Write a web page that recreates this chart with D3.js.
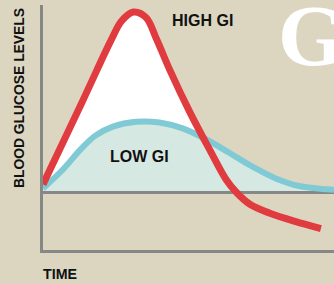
<!DOCTYPE html>
<html>
<head>
<meta charset="utf-8">
<script src="https://cdn.jsdelivr.net/npm/d3@7"></script>
<style>
  html, body { margin: 0; padding: 0; background: #dcd6c1; }
  svg { display: block; }
  text { font-family: "Liberation Sans", Arial, sans-serif; font-weight: bold; fill: #111; }
</style>
</head>
<body>
<svg id="svg1" width="334" height="284"></svg>
<script>
// time (0-100) and glucose level above fasting baseline (0)
var highTime  = [0, 13.7, 23.4, 27, 31, 35.4, 39, 43.6, 50.5, 57.4, 62.9, 66.5, 71.1, 78.0, 86.6, 95.5];
var highLevel = [4.5, 51, 84.4, 95, 100, 97, 85, 67.8, 44.4, 23.3, 7.2, 0, -6.5, -11.5, -16, -20];
var lowTime   = [0, 7, 13, 18, 24, 32, 40, 48, 56, 64, 72, 80, 88, 100];
var lowLevel  = [2.2, 13, 24, 31.5, 36.5, 39.2, 38.8, 35.5, 29.5, 22, 14.3, 7.8, 3.6, 1.5];
var labels = ["HIGH GI", "LOW GI"];

var svg = d3.select("#svg1");
var x = d3.scaleLinear().domain([0, 100]).range([43, 334]);
var y = d3.scaleLinear().domain([0, 100]).range([192.5, 12]);

var high = highTime.map(function(t, i) { return [t, highLevel[i]]; });
var low = lowTime.map(function(t, i) { return [t, lowLevel[i]]; });

svg.append("defs").append("clipPath").attr("id", "above")
  .append("rect")
  .attr("x", 0).attr("y", 0)
  .attr("width", 334).attr("height", y(0));

var curve = d3.curveCatmullRom.alpha(0.5);

var line = d3.line()
  .x(function(d) { return x(d[0]); })
  .y(function(d) { return y(d[1]); })
  .curve(curve);

var area = d3.area()
  .x(function(d) { return x(d[0]); })
  .y0(y(0))
  .y1(function(d) { return y(d[1]); })
  .curve(curve);

// big white letter
svg.append("text")
  .text("G")
  .attr("x", 278).attr("y", 65)
  .style("font-family", "'Liberation Serif', 'Times New Roman', serif")
  .style("font-size", "86px")
  .style("fill", "#ffffff");

svg.append("path").datum(high)
  .attr("d", area)
  .attr("clip-path", "url(#above)")
  .style("fill", "#ffffff");

svg.append("path").datum(low)
  .attr("d", area)
  .attr("clip-path", "url(#above)")
  .style("fill", "#d6e8e2");

// baseline and time axis
svg.append("line")
  .attr("x1", 40).attr("x2", 334)
  .attr("y1", y(0)).attr("y2", y(0))
  .style("stroke", "#858886").style("stroke-width", 3);

svg.append("line")
  .attr("x1", 40).attr("x2", 334)
  .attr("y1", 251.5).attr("y2", 251.5)
  .style("stroke", "#858886").style("stroke-width", 3);

svg.append("path").datum(low)
  .attr("d", line)
  .style("fill", "none")
  .style("stroke", "#7fcad4")
  .style("stroke-width", 6);

svg.append("path").datum(high)
  .attr("d", line)
  .style("fill", "none")
  .style("stroke", "#e03c40")
  .style("stroke-width", 7);

svg.append("line")
  .attr("x1", 41.5).attr("x2", 41.5)
  .attr("y1", 5).attr("y2", 253)
  .style("stroke", "#858886").style("stroke-width", 3);

svg.append("text").text(labels[0])
  .attr("x", 172).attr("y", 25.5)
  .style("font-size", "16px");

svg.append("text").text(labels[1])
  .attr("x", 110).attr("y", 162)
  .style("font-size", "16px");

svg.append("text").text("TIME")
  .attr("x", 43).attr("y", 279)
  .attr("textLength", 34)
  .attr("lengthAdjust", "spacingAndGlyphs")
  .style("font-size", "15px");

svg.append("text").text("BLOOD GLUCOSE LEVELS")
  .attr("transform", "translate(24,188) rotate(-90)")
  .attr("textLength", 180)
  .attr("lengthAdjust", "spacingAndGlyphs")
  .style("font-size", "15px");
</script>
</body>
</html>
